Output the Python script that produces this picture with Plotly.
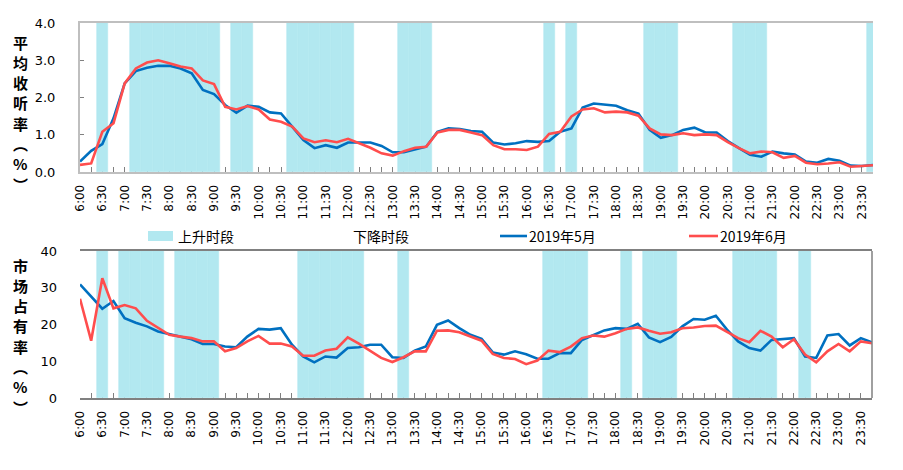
import plotly.graph_objects as go

W, H = 903, 470

times = [f"{h}:{m:02d}" for h in range(6, 24) for m in (0, 15, 30, 45)]

may_rating = [0.28, 0.57, 0.75, 1.44, 2.38, 2.71, 2.80, 2.85, 2.85, 2.78, 2.65, 2.20,
              2.09, 1.80, 1.59, 1.78, 1.75, 1.60, 1.57, 1.22, 0.86, 0.64, 0.72, 0.65,
              0.79, 0.79, 0.79, 0.70, 0.53, 0.53, 0.61, 0.68, 1.08, 1.17, 1.15, 1.10,
              1.08, 0.79, 0.74, 0.77, 0.83, 0.81, 0.83, 1.08, 1.17, 1.73, 1.84, 1.82,
              1.78, 1.66, 1.57, 1.13, 0.92, 0.99, 1.13, 1.19, 1.06, 1.06, 0.83, 0.64,
              0.46, 0.41, 0.55, 0.50, 0.47, 0.28, 0.25, 0.35, 0.30, 0.17, 0.16, 0.19]
jun_rating = [0.19, 0.23, 1.08, 1.31, 2.38, 2.78, 2.94, 3.00, 2.92, 2.83, 2.78, 2.46,
              2.36, 1.75, 1.68, 1.77, 1.68, 1.41, 1.35, 1.22, 0.90, 0.80, 0.85, 0.80,
              0.89, 0.77, 0.65, 0.50, 0.44, 0.56, 0.65, 0.68, 1.06, 1.13, 1.13, 1.06,
              0.99, 0.72, 0.61, 0.61, 0.59, 0.68, 1.02, 1.08, 1.49, 1.68, 1.71, 1.60,
              1.62, 1.60, 1.51, 1.17, 1.01, 0.99, 1.04, 0.99, 1.01, 0.99, 0.80, 0.64,
              0.50, 0.55, 0.53, 0.38, 0.43, 0.25, 0.21, 0.23, 0.26, 0.14, 0.16, 0.18]
may_share = [30.9, 27.6, 24.3, 26.4, 21.7, 20.5, 19.5, 18.1, 17.4, 16.5, 16.0, 14.7,
             14.7, 14.0, 13.8, 16.7, 18.8, 18.6, 19.0, 14.5, 11.3, 9.7, 11.3, 11.0,
             13.6, 13.8, 14.5, 14.5, 11.1, 10.9, 12.9, 14.0, 19.9, 21.1, 19.0, 17.2,
             16.1, 12.4, 11.8, 12.7, 11.9, 10.7, 10.7, 12.2, 12.2, 15.8, 17.2, 18.4,
             19.0, 18.8, 20.2, 16.5, 15.2, 16.6, 19.5, 21.5, 21.3, 22.4, 18.6, 15.4,
             13.6, 12.9, 15.8, 16.1, 16.3, 11.3, 10.9, 17.0, 17.4, 14.3, 16.3, 15.1]
jun_share = [27.0, 15.6, 32.6, 24.4, 25.3, 24.4, 21.0, 19.2, 17.2, 16.7, 16.3, 15.4,
             15.4, 12.7, 13.6, 15.4, 16.9, 14.8, 14.8, 14.0, 11.5, 11.5, 12.9, 13.4,
             16.5, 14.8, 12.9, 10.9, 9.8, 11.1, 12.7, 12.7, 18.3, 18.4, 17.9, 16.7,
             15.6, 12.0, 10.9, 10.6, 9.2, 10.2, 12.9, 12.5, 14.0, 16.3, 17.0, 16.7,
             17.6, 18.8, 19.2, 18.3, 17.5, 17.9, 19.0, 19.2, 19.6, 19.7, 17.9, 16.3,
             15.2, 18.3, 16.7, 13.8, 16.0, 11.8, 9.7, 12.7, 14.7, 12.7, 15.4, 14.9]

rise_rating = ["6:30", "7:15", "7:30", "7:45", "8:00", "8:15", "8:30", "8:45", "9:00",
               "9:30", "9:45", "10:45", "11:00", "11:15", "11:30", "11:45", "12:00",
               "13:15", "13:30", "13:45", "16:30", "17:00", "18:45", "19:00", "19:15",
               "20:45", "21:00", "21:15", "23:45"]
rise_share = ["6:30", "7:00", "7:15", "7:30", "7:45", "8:15", "8:30", "8:45", "9:00",
              "11:00", "11:15", "11:30", "11:45", "12:00", "12:15", "13:15",
              "16:30", "16:45", "17:00", "17:15", "18:15", "18:45", "19:00", "19:15",
              "20:45", "21:00", "21:15", "21:30", "22:15"]

series_names = ["2019年5月", "2019年6月"]
legend_names = ["上升时段", "下降时段"]
y_titles = ["平均收听率（%）", "市场占有率（%）"]
tick_labels = times[::2]

BAND = "#B2E8F0"
BLUE = "#0070C0"
RED = "#FF4D4D"
FONT = "DejaVu Sans"
CJK = "Noto Sans CJK SC"

xi = list(range(len(times)))
pos = {t: i for i, t in enumerate(times)}

fig = go.Figure()

fig.add_trace(go.Bar(x=[pos[t] for t in rise_rating], y=[4] * len(rise_rating), width=1,
                     marker=dict(color=BAND, line=dict(width=0.6, color=BAND)), showlegend=False,
                     xaxis="x", yaxis="y", hoverinfo="skip"))
fig.add_trace(go.Bar(x=[pos[t] for t in rise_share], y=[40] * len(rise_share), width=1,
                     marker=dict(color=BAND, line=dict(width=0.6, color=BAND)), showlegend=False,
                     xaxis="x2", yaxis="y2", hoverinfo="skip"))

for vals, col, nm, ax, ay in [(may_rating, BLUE, series_names[0], "x", "y"),
                              (jun_rating, RED, series_names[1], "x", "y"),
                              (may_share, BLUE, series_names[0], "x2", "y2"),
                              (jun_share, RED, series_names[1], "x2", "y2")]:
    fig.add_trace(go.Scatter(x=xi, y=vals, mode="lines", name=nm,
                             line=dict(color=col, width=2.6), showlegend=False,
                             xaxis=ax, yaxis=ay))

xl, xr = 80 / W, 873 / W

def xaxis_style(linecol, dom, anchor):
    return dict(domain=dom, anchor=anchor, range=[0, 71], tickmode="array",
                tickvals=xi[::2], ticktext=tick_labels, tickangle=-90,
                tickfont=dict(family=FONT, size=12, color="#000"),
                ticks="inside", ticklen=5, tickcolor="#808080", tickwidth=1,
                minor=dict(dtick=1, tick0=0, ticks="inside", ticklen=5,
                           tickcolor="#808080", tickwidth=1, showgrid=False),
                showline=True, linecolor=linecol, linewidth=2, mirror=True,
                showgrid=False, zeroline=False, layer="below traces",
                ticklabelstandoff=6, fixedrange=True)

fig.update_layout(
    template="none",
    width=W, height=H, margin=dict(l=0, r=0, t=0, b=0),
    paper_bgcolor="white", plot_bgcolor="white", showlegend=False,
    barmode="overlay", bargap=0,
    xaxis=xaxis_style("#BFBFBF", [xl, xr], "y"),
    yaxis=dict(domain=[1 - 172 / H, 1 - 23 / H], anchor="x", range=[0, 4],
               tickvals=[0, 1, 2, 3, 4], tickformat=".1f",
               tickfont=dict(family=FONT, size=13, color="#000"),
               showline=True, linecolor="#BFBFBF", linewidth=2,
               ticks="inside", ticklen=4, tickcolor="#808080",
               showgrid=False, zeroline=False, ticklabelstandoff=20,
               layer="below traces"),
    xaxis2=xaxis_style("#808080", [xl, 872 / W], "y2"),
    yaxis2=dict(domain=[1 - 398 / H, 1 - 251 / H], anchor="x2", range=[0, 40],
                tickvals=[0, 10, 20, 30, 40],
                tickfont=dict(family=FONT, size=13, color="#000"),
                showline=False, ticks="", showgrid=False, zeroline=False,
                ticklabelstandoff=22),
)

fig.add_shape(type="line", xref="x2 domain", yref="y2 domain", x0=1, x1=1, y0=0, y1=1,
              line=dict(color="#808080", width=1.5))

# y-axis titles: stacked vertical text, one character per row
vert = {"（": "︵", "）": "︶"}
for title, top_px in [(y_titles[0], 42), (y_titles[1], 265)]:
    for k, ch in enumerate(title):
        fig.add_annotation(text="<b>" + vert.get(ch, ch) + "</b>",
                           xref="paper", yref="paper", x=20 / W,
                           y=1 - (top_px + 20.3 * k) / H,
                           showarrow=False, font=dict(family=CJK, size=15, color="#000"),
                           xanchor="center", yanchor="middle")

# legend
ly = 1 - 236 / H
fig.add_shape(type="rect", xref="paper", yref="paper", x0=148 / W, x1=173 / W,
              y0=1 - 241 / H, y1=1 - 231 / H, fillcolor=BAND, line=dict(width=0))
fig.add_shape(type="line", xref="paper", yref="paper", x0=500 / W, x1=527 / W,
              y0=ly, y1=ly, line=dict(color=BLUE, width=2.6))
fig.add_shape(type="line", xref="paper", yref="paper", x0=689 / W, x1=718 / W,
              y0=ly, y1=ly, line=dict(color=RED, width=2.6))
for txt, xpx in [(legend_names[0], 176), (legend_names[1], 351),
                 (series_names[0], 527), (series_names[1], 718)]:
    fig.add_annotation(text=txt, xref="paper", yref="paper", x=xpx / W, y=ly,
                       showarrow=False, xanchor="left", yanchor="middle",
                       font=dict(family=CJK, size=14, color="#000"))

fig.write_html("out.html")
